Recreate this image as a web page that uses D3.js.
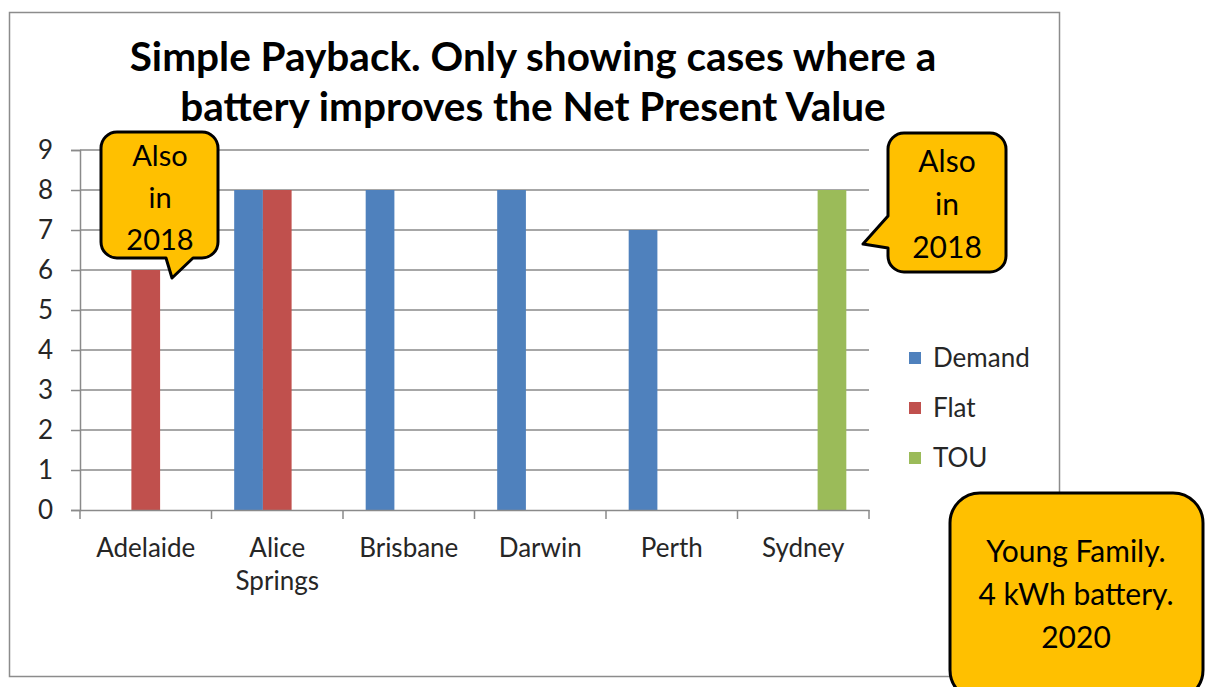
<!DOCTYPE html>
<html>
<head>
<meta charset="utf-8">
<script src="https://cdn.jsdelivr.net/npm/d3@7"></script>
<style>
  html, body { margin: 0; padding: 0; background: #fff; }
  svg { display: block; font-family: Lato, "Open Sans", sans-serif; }
</style>
</head>
<body>
<svg id="chart" width="1206" height="687"></svg>
<script>
// Payback years by city and tariff
const cities = ["Adelaide", "Alice Springs", "Brisbane", "Darwin", "Perth", "Sydney"];
const cityLines = [["Adelaide"], ["Alice", "Springs"], ["Brisbane"], ["Darwin"], ["Perth"], ["Sydney"]];
const tariffs = ["Demand", "Flat", "TOU"];
const demand = [null, 8, 8, 8, 7, null];
const flat = [6, 8, null, null, null, null];
const tou = [null, null, null, null, null, 8];
const yTicks = [0, 1, 2, 3, 4, 5, 6, 7, 8, 9];
const titleLines = ["Simple Payback. Only showing cases where a", "battery improves the Net Present Value"];
const noteLines = ["Young Family.", "4 kWh battery.", "2020"];
const calloutLines = ["Also", "in", "2018"];

const colors = { Demand: "#4F81BD", Flat: "#C0504D", TOU: "#9BBB59" };
const seriesValues = { Demand: demand, Flat: flat, TOU: tou };
const textColor = "#262626";
const gridColor = "#8a8a8a";

const svg = d3.select("#chart");

// outer chart frame
svg.append("rect")
  .attr("x", 9.5).attr("y", 12.5).attr("width", 1050).attr("height", 664)
  .attr("fill", "#fff").attr("stroke", "#8c8c8c").attr("stroke-width", 1.5);

// title
svg.append("text")
  .attr("text-anchor", "middle")
  .attr("font-weight", 700).attr("font-size", 40.5).attr("fill", "#000")
  .selectAll("tspan").data(titleLines).join("tspan")
  .attr("x", 533).attr("y", (d, i) => 71 + i * 50)
  .text(d => d);

const x = d3.scaleBand().domain(cities).range([80, 869]).paddingInner(0).paddingOuter(0);
const xs = d3.scaleBand().domain(tariffs).range([0, x.bandwidth()]).paddingInner(0).paddingOuter(0.79);
const y = d3.scaleLinear().domain([0, 9]).range([510, 150]);

// horizontal gridlines
svg.append("g").selectAll("line").data(yTicks.filter(t => t > 0)).join("line")
  .attr("x1", 80).attr("x2", 869)
  .attr("y1", d => y(d)).attr("y2", d => y(d))
  .attr("stroke", gridColor).attr("stroke-width", 1.5);

// y axis
const yAxis = svg.append("g").attr("transform", "translate(80,0)")
  .call(d3.axisLeft(y).tickValues(yTicks).tickSize(9).tickPadding(18).tickFormat(d3.format("d")));
yAxis.select(".domain").attr("stroke", gridColor).attr("stroke-width", 1.5);
yAxis.selectAll(".tick line").attr("stroke", gridColor).attr("stroke-width", 1.5);
yAxis.selectAll(".tick text").attr("font-size", 26).attr("fill", textColor)
  .attr("font-family", "Lato, sans-serif");

// bars
const rows = [];
cities.forEach((c, i) => tariffs.forEach(t => {
  const v = seriesValues[t][i];
  if (v != null) rows.push({ city: c, tariff: t, value: v });
}));
svg.append("g").selectAll("rect").data(rows).join("rect")
  .attr("x", d => x(d.city) + xs(d.tariff))
  .attr("y", d => y(d.value))
  .attr("width", xs.bandwidth())
  .attr("height", d => y(0) - y(d.value))
  .attr("fill", d => colors[d.tariff]);

// x axis
const xAxis = svg.append("g").attr("transform", "translate(0,510)")
  .call(d3.axisBottom(x).tickSize(0).tickFormat(""));
xAxis.select(".domain").attr("stroke", gridColor).attr("stroke-width", 1.5);
const bounds = cities.map(c => x(c)).concat([x.range()[1]]);
xAxis.append("g").selectAll("line").data(bounds).join("line")
  .attr("x1", d => d).attr("x2", d => d).attr("y1", 0).attr("y2", 9)
  .attr("stroke", gridColor).attr("stroke-width", 1.5);

// category labels
svg.append("g").selectAll("text").data(cities).join("text")
  .attr("text-anchor", "middle").attr("font-size", 26).attr("fill", textColor)
  .each(function (c, i) {
    d3.select(this).selectAll("tspan").data(cityLines[i]).join("tspan")
      .attr("x", x(c) + x.bandwidth() / 2)
      .attr("y", (d, j) => 557 + j * 33)
      .text(d => d);
  });

// legend
const legend = svg.append("g").selectAll("g").data(tariffs).join("g")
  .attr("transform", (d, i) => `translate(909,${358 + i * 50})`);
legend.append("rect").attr("x", 0).attr("y", -6).attr("width", 12).attr("height", 12)
  .attr("fill", d => colors[d]);
legend.append("text").attr("x", 24).attr("y", 9).attr("font-size", 26).attr("fill", textColor)
  .text(d => d);

// speech-bubble callouts
function bubble(x0, y0, x1, y1, r, tail) {
  const p = d3.path();
  p.moveTo(x0 + r, y0);
  p.lineTo(x1 - r, y0);
  p.arcTo(x1, y0, x1, y0 + r, r);
  p.lineTo(x1, y1 - r);
  p.arcTo(x1, y1, x1 - r, y1, r);
  if (tail && tail.side === "bottom") {
    p.lineTo(tail.b, y1);
    p.lineTo(tail.tx, tail.ty);
    p.lineTo(tail.a, y1);
  }
  p.lineTo(x0 + r, y1);
  p.arcTo(x0, y1, x0, y1 - r, r);
  if (tail && tail.side === "left") {
    p.lineTo(x0, tail.b);
    p.lineTo(tail.tx, tail.ty);
    p.lineTo(x0, tail.a);
  }
  p.lineTo(x0, y0 + r);
  p.arcTo(x0, y0, x0 + r, y0, r);
  p.closePath();
  return p.toString();
}

function callout(box, tail, lines, cx, y0, dy, size) {
  const g = svg.append("g");
  g.append("path").attr("d", bubble(box[0], box[1], box[2], box[3], box[4], tail))
    .attr("fill", "#FFC000").attr("stroke", "#000").attr("stroke-width", 3)
    .attr("stroke-linejoin", "round");
  g.append("text").attr("text-anchor", "middle").attr("font-size", size).attr("fill", "#000")
    .selectAll("tspan").data(lines).join("tspan")
    .attr("x", cx).attr("y", (d, i) => y0 + i * dy).text(d => d);
}

callout([101, 132, 218, 258, 16], { side: "bottom", a: 166, b: 193, tx: 172, ty: 278 },
  calloutLines, 160, 166, 42, 29);
callout([888, 133, 1006, 272, 16], { side: "left", a: 216, b: 248, tx: 863, ty: 244 },
  calloutLines, 947, 172, 43, 30);
callout([950, 493, 1203, 700, 30], null, noteLines, 1076, 562, 43, 30);
</script>
</body>
</html>
